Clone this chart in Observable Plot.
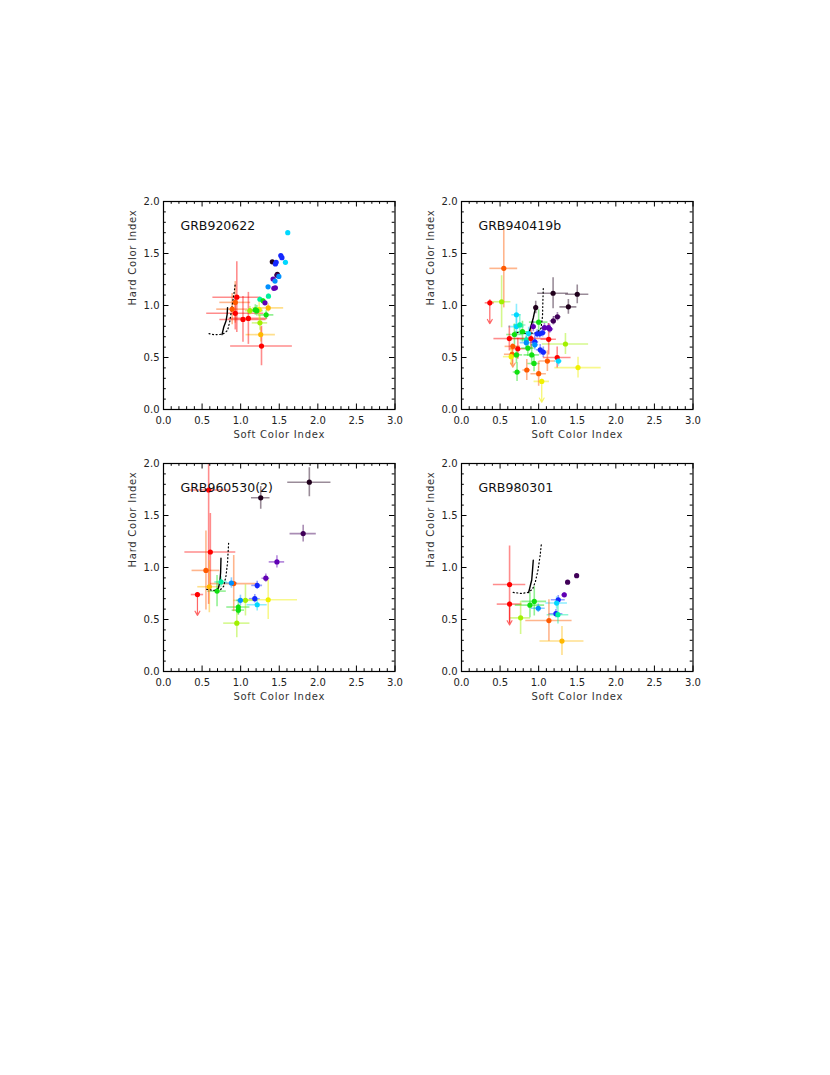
<!DOCTYPE html>
<html><head><meta charset="utf-8">
<script src="https://cdn.jsdelivr.net/npm/d3@7"></script>
<script src="https://cdn.jsdelivr.net/npm/@observablehq/plot@0.6"></script>
<style>
body{margin:0;background:#fff;width:830px;height:1075px;position:relative;overflow:hidden;font-family:"DejaVu Sans",sans-serif}
.panel{position:absolute}
</style></head><body>
<div id="p0" class="panel"></div>
<div id="p1" class="panel"></div>
<div id="p2" class="panel"></div>
<div id="p3" class="panel"></div>
<script>
// colour table (time order: dark -> purple -> blue -> cyan -> green -> yellow -> orange -> red)
const palette = ["#20001c","#400058","#6000b4","#1428ff","#0090ff","#00d8ff","#00f0a0","#10e010","#a0f000","#f0f000","#ffb800","#ff5a00","#ff0000"];
const titles = ["GRB920622","GRB940419b","GRB960530(2)","GRB980301"];
const xLabel = "Soft Color Index";
const yLabel = "Hard Color Index";
const majorX = [0,0.5,1,1.5,2,2.5,3];
const minorX = [0.1,0.2,0.3,0.4,0.6,0.7,0.8,0.9,1.1,1.2,1.3,1.4,1.6,1.7,1.8,1.9,2.1,2.2,2.3,2.4,2.6,2.7,2.8,2.9];
const majorY = [0,0.5,1,1.5,2];
const minorY = [0.1,0.2,0.3,0.4,0.6,0.7,0.8,0.9,1.1,1.2,1.3,1.4,1.6,1.7,1.8,1.9];

// rows: [soft, hard, soft err, hard err, colour index, upper limit]
const grb920622 = [
  [1.61,1.70,0.01,0.01,5],[1.52,1.48,0.01,0.01,3],[1.535,1.46,0.01,0.01,3],[1.58,1.415,0.01,0.01,5],
  [1.41,1.42,0.01,0.01,0],[1.46,1.415,0.01,0.01,3],[1.45,1.40,0.01,0.01,3],[1.475,1.30,0.01,0.01,0],
  [1.47,1.29,0.01,0.01,1],[1.495,1.28,0.01,0.01,4],[1.42,1.255,0.01,0.01,2],[1.445,1.235,0.01,0.01,4],
  [1.355,1.18,0.01,0.01,4],[1.43,1.165,0.01,0.01,2],[1.45,1.17,0.01,0.01,2],[1.36,1.09,0.01,0.02,6],
  [1.25,1.06,0.02,0.02,6],[1.29,1.045,0.02,0.02,7],[1.315,1.026,0.01,0.01,2],[1.24,0.96,0.05,0.10,9],
  [1.357,0.977,0.20,0.04,10],[1.12,0.95,0.06,0.04,8],[1.19,0.957,0.07,0.05,7],[1.21,0.95,0.08,0.05,7],
  [1.33,0.91,0.10,0.04,7],[1.25,0.833,0.10,0.07,8],[1.26,0.72,0.19,0.07,10],[1.27,0.61,0.40,0.19,12],
  [0.95,1.08,0.31,0.34,12],[0.93,1.03,0.20,0.20,11],[0.89,0.965,0.20,0.15,11],[0.93,0.925,0.37,0.16,12],
  [1.03,0.866,0.30,0.22,12],[1.10,0.876,0.25,0.25,12]
];
const grb920622Solid = [[0.758,0.72],[0.78,0.79],[0.81,0.85],[0.825,0.915],[0.83,0.98]];
const grb920622Dotted = [[0.59,0.73],[0.65,0.72],[0.72,0.72],[0.78,0.73],[0.83,0.76],[0.86,0.85],[0.88,0.95],[0.90,1.05],[0.92,1.15],[0.93,1.21]];

const grb940419b = [
  [0.367,1.026,0.06,0.03,12,1],[0.548,1.357,0.18,0.38,11],[0.52,1.036,0.12,0.25,8],[1.187,1.118,0.20,0.15,0],
  [1.50,1.108,0.15,0.09,0],[1.385,0.987,0.11,0.07,0],[0.962,0.98,0.02,0.06,0],[1.243,0.892,0.05,0.04,1],
  [1.19,0.852,0.04,0.04,1],[1.144,0.774,0.05,0.04,2],[1.127,0.787,0.04,0.04,2],[1.075,0.787,0.04,0.04,2],
  [0.93,0.797,0.04,0.05,2],[1.05,0.738,0.05,0.04,3],[1.014,0.728,0.05,0.04,3],[0.98,0.728,0.05,0.04,3],
  [1.0,0.84,0.12,0.12,7],[0.712,0.911,0.06,0.10,5],[0.712,0.797,0.10,0.10,5],[0.755,0.813,0.08,0.10,6],
  [0.686,0.721,0.10,0.10,7],[0.79,0.748,0.10,0.10,7],[0.87,0.73,0.06,0.06,5],[0.84,0.67,0.08,0.08,6],
  [0.62,0.682,0.20,0.12,12],[0.90,0.682,0.25,0.10,12],[1.13,0.675,0.10,0.15,12],[0.84,0.643,0.08,0.06,4],
  [0.95,0.65,0.05,0.06,3],[0.95,0.623,0.05,0.05,4],[1.02,0.574,0.05,0.05,3],[1.06,0.551,0.05,0.05,3],
  [0.665,0.607,0.10,0.02,11,1],[0.73,0.584,0.10,0.10,12],[0.656,0.531,0.10,0.10,11],[0.643,0.508,0.10,0.08,9],
  [0.712,0.525,0.08,0.08,7],[0.86,0.59,0.08,0.08,7],[0.91,0.525,0.10,0.10,7],[0.94,0.443,0.08,0.08,7],
  [0.72,0.36,0.05,0.09,7],[0.846,0.38,0.05,0.10,11],[1.0,0.344,0.10,0.12,11],[1.04,0.27,0.10,0.02,9,1],
  [1.113,0.466,0.10,0.10,11],[1.24,0.50,0.18,0.10,12],[1.256,0.466,0.05,0.05,5],[1.347,0.63,0.30,0.10,8],
  [1.51,0.403,0.30,0.10,9]
];
const grb940419bSolid = [[0.86,0.72],[0.88,0.75],[0.90,0.80],[0.93,0.88],[0.95,0.95],[0.96,1.0]];
const grb940419bDotted = [[0.72,0.74],[0.85,0.73],[0.98,0.74],[1.03,0.78],[1.05,0.9],[1.055,1.05],[1.06,1.17]];

const grb960530 = [
  [0.585,1.745,0.27,1.10,12],[0.607,1.149,0.33,0.37,12],[0.55,0.972,0.18,0.38,11],[0.594,0.815,0.15,0.25,10],
  [0.44,0.74,0.08,0.02,12,1],[0.694,0.773,0.12,0.15,7],[0.745,0.861,0.08,0.05,6],[0.91,0.845,0.30,0.27,11],
  [0.88,0.851,0.08,0.05,4],[1.214,0.828,0.07,0.04,3],[1.326,0.897,0.05,0.04,2],[1.47,1.054,0.10,0.06,2],
  [1.81,1.326,0.17,0.08,1],[1.26,1.67,0.12,0.11,0],[1.89,1.82,0.28,0.14,0],[1.183,0.70,0.07,0.04,3],
  [1.214,0.642,0.13,0.06,5],[1.357,0.69,0.38,0.19,9],[1.062,0.684,0.15,0.15,8],[0.997,0.684,0.05,0.05,4],
  [0.97,0.62,0.15,0.07,7],[0.97,0.59,0.08,0.05,7],[0.95,0.465,0.17,0.14,8]
];
const grb960530Solid = [[0.68,0.78],[0.71,0.80],[0.73,0.86],[0.74,0.95],[0.745,1.09]];
const grb960530Dotted = [[0.56,0.79],[0.65,0.78],[0.73,0.78],[0.78,0.82],[0.81,0.92],[0.83,1.05],[0.845,1.25]];

const grb980301 = [
  [0.623,0.836,0.21,0.37,12],[0.623,0.648,0.16,0.02,12,1],[0.766,0.516,0.13,0.16,8],[0.887,0.638,0.19,0.12,7],
  [0.943,0.674,0.16,0.14,7],[0.995,0.608,0.09,0.04,4],[1.133,0.49,0.30,0.20,11],[1.302,0.293,0.285,0.14,10],
  [1.254,0.69,0.09,0.04,3],[1.233,0.658,0.14,0.06,5],[1.224,0.556,0.09,0.04,3],[1.25,0.546,0.14,0.09,6],
  [1.332,0.737,0.03,0.02,2],[1.375,0.859,0.01,0.01,1],[1.492,0.921,0.01,0.01,1]
];
const grb980301Solid = [[0.87,0.76],[0.89,0.82],[0.91,0.88],[0.92,0.97],[0.93,1.07]];
const grb980301Dotted = [[0.67,0.76],[0.78,0.75],[0.86,0.76],[0.92,0.79],[0.96,0.87],[0.99,0.97],[1.02,1.12],[1.036,1.235]];

const panels = [
  {id:"p0", rows:grb920622, solid:grb920622Solid, dotted:grb920622Dotted, left:162.7, top:200.5},
  {id:"p1", rows:grb940419b, solid:grb940419bSolid, dotted:grb940419bDotted, left:460.7, top:200.5},
  {id:"p2", rows:grb960530, solid:grb960530Solid, dotted:grb960530Dotted, left:162.7, top:462.8},
  {id:"p3", rows:grb980301, solid:grb980301Solid, dotted:grb980301Dotted, left:460.7, top:462.8}
];

const W = 231.5, H = 208, ML = 50, MR = 10, MT = 10, MB = 40;
const maj = 5.5, mnr = 2.8;

panels.forEach((p, i) => {
  const data = p.rows.map(([x,y,ex,ey,c,ul]) => ({x, y, ex, ey, color: palette[c], ul: !!ul}));
  const tickStyle = {stroke:"#000", strokeWidth:1};
  const plot = Plot.plot({
    width: ML + W + MR, height: MT + H + MB,
    marginLeft: ML, marginRight: MR, marginTop: MT, marginBottom: MB,
    style: {fontFamily: "DejaVu Sans", fontSize: "10px", color: "#222", background: "transparent"},
    x: {domain: [0,3], ticks: 6, tickFormat: ".1f", tickSize: 0, tickPadding: 7, label: null},
    y: {domain: [0,2], ticks: 4, tickFormat: ".1f", tickSize: 0, tickPadding: 4, label: null},
    marks: [
      Plot.ruleY(data, {y: "y", x1: d => d.x - d.ex, x2: d => d.x + d.ex, stroke: d => d.color, strokeOpacity: 0.45, strokeWidth: 1.6, clip: true}),
      Plot.ruleX(data, {x: "x", y1: d => d.y - d.ey, y2: d => d.y + d.ey, stroke: d => d.color, strokeOpacity: 0.45, strokeWidth: 1.6, clip: true}),
      Plot.arrow(data.filter(d => d.ul), {x1: "x", y1: "y", x2: "x", y2: d => d.y - 0.2, bend: 0, headLength: 6, stroke: d => d.color, strokeOpacity: 0.6, strokeWidth: 1.2}),
      Plot.line(p.dotted, {x: d => d[0], y: d => d[1], stroke: "#000", strokeWidth: 1.2, strokeDasharray: "1,2.6"}),
      Plot.line(p.solid, {x: d => d[0], y: d => d[1], stroke: "#000", strokeWidth: 1.4}),
      Plot.dot(data, {x: "x", y: "y", r: 2.6, fill: d => d.color}),
      Plot.frame({stroke: "#000", strokeWidth: 1.2}),
      Plot.ruleX(majorX, {...tickStyle, insetTop: H - maj}),
      Plot.ruleX(majorX, {...tickStyle, insetBottom: H - maj}),
      Plot.ruleX(minorX, {...tickStyle, insetTop: H - mnr}),
      Plot.ruleX(minorX, {...tickStyle, insetBottom: H - mnr}),
      Plot.ruleY(majorY, {...tickStyle, insetRight: W - maj}),
      Plot.ruleY(majorY, {...tickStyle, insetLeft: W - maj}),
      Plot.ruleY(minorY, {...tickStyle, insetRight: W - mnr}),
      Plot.ruleY(minorY, {...tickStyle, insetLeft: W - mnr}),
      Plot.text([titles[i]], {text: d => d, frameAnchor: "top-left", dx: 17, dy: 28, textAnchor: "start", lineAnchor: "bottom", fontSize: 12.5, fill: "#111"}),
      Plot.text([xLabel], {text: d => d, frameAnchor: "bottom", dy: 25, lineAnchor: "middle", fontSize: 10, fill: "#333", style: "letter-spacing:0.75px"}),
      Plot.text([yLabel], {text: d => d, frameAnchor: "left", dx: -31, rotate: -90, lineAnchor: "middle", fontSize: 10, fill: "#333"})
    ]
  });
  plot.querySelectorAll("text").forEach(t => { if (t.textContent === xLabel || t.textContent === yLabel) t.setAttribute("letter-spacing", "0.75"); });
  const el = document.getElementById(p.id);
  el.style.left = (p.left - ML) + "px";
  el.style.top = (p.top - MT) + "px";
  el.appendChild(plot);
});
</script>
</body></html>
